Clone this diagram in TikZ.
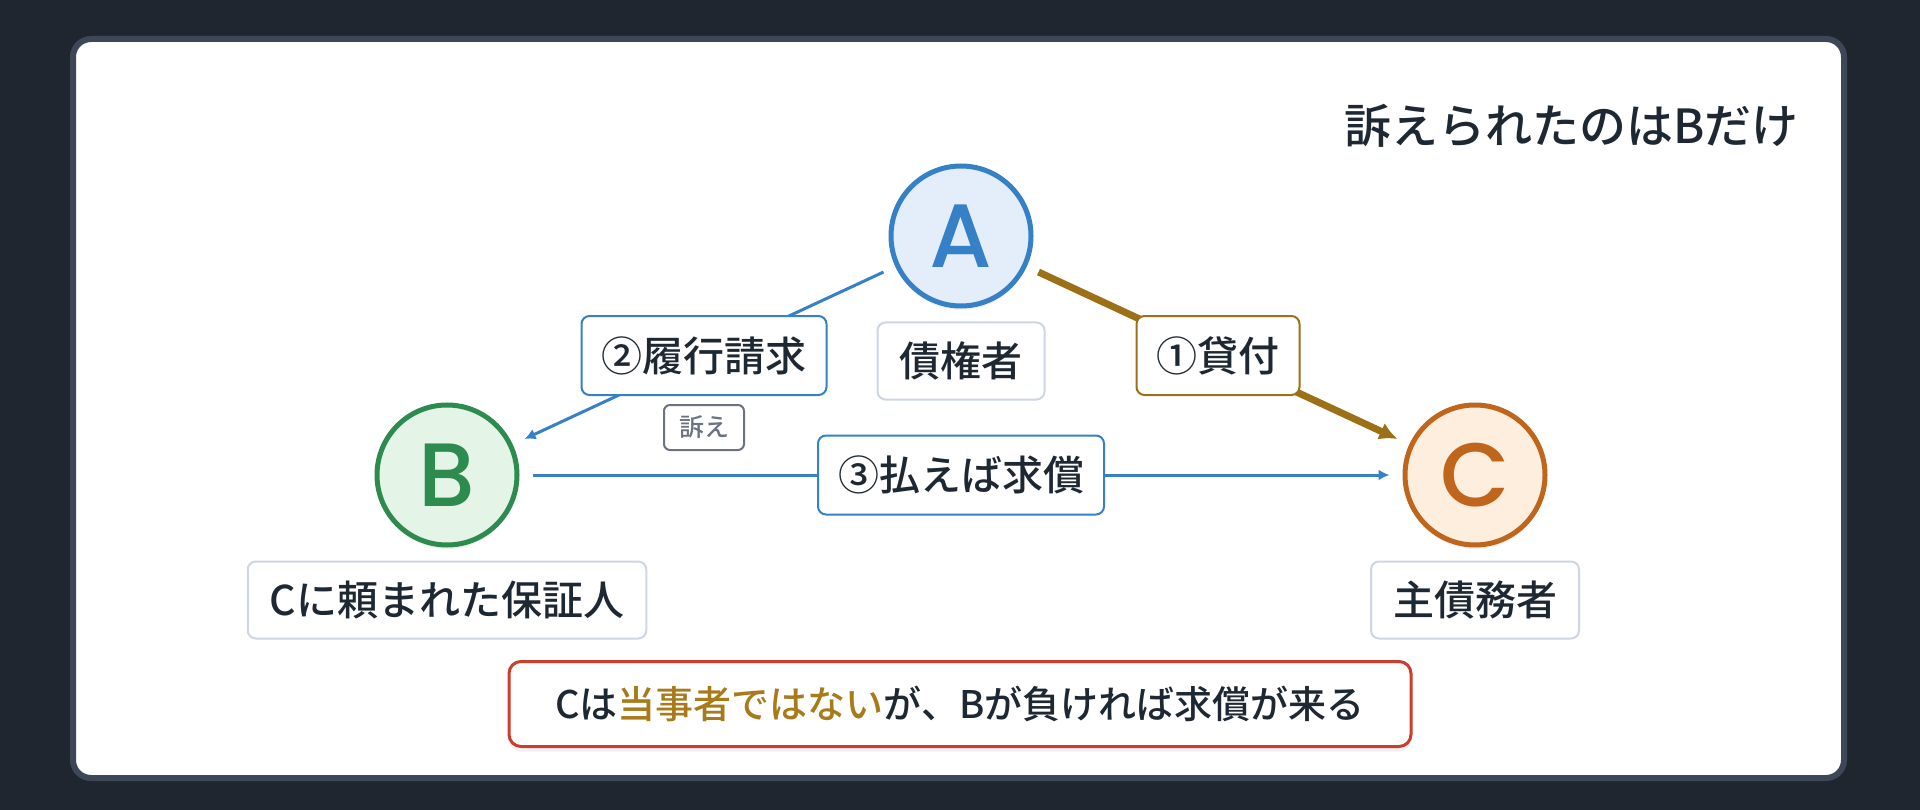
\documentclass[tikz,border=0pt]{standalone}
\usepackage{fontspec}
\setmainfont{Noto Sans CJK JP Medium}
\newfontfamily\letterfont{Poppins Medium}
\usetikzlibrary{arrows.meta}
\usetikzlibrary{positioning}
\usetikzlibrary{shadows}
\definecolor{bgdark}{HTML}{1F2630}
\definecolor{panelline}{HTML}{3D4757}
\definecolor{ink}{HTML}{1E2833}
\definecolor{blueline}{HTML}{3580C6}
\definecolor{bluefill}{HTML}{E3EEFA}
\definecolor{greenline}{HTML}{2E8B50}
\definecolor{greenfill}{HTML}{E4F5E8}
\definecolor{orangeline}{HTML}{C0651C}
\definecolor{orangefill}{HTML}{FDEEDD}
\definecolor{goldline}{HTML}{9C7016}
\definecolor{goldtext}{HTML}{A87A1A}
\definecolor{redline}{HTML}{CC3D2B}
\definecolor{roleline}{HTML}{CDD6E2}
\definecolor{suegray}{HTML}{6B7280}
\tikzset{
	party/.style={circle,line width=5pt,minimum size=140pt,inner sep=0pt,
		font=\letterfont\fontsize{90}{90}\selectfont,
		drop shadow={opacity=0.10,shadow xshift=0pt,shadow yshift=-4pt}},
	role/.style={draw=roleline,line width=2pt,fill=white,rounded corners=8pt,
		inner xsep=22pt,minimum height=77pt,text=ink,font=\fontsize{41}{49}\selectfont},
	steptag/.style={line width=2pt,fill=white,rounded corners=8pt,
		inner xsep=20pt,minimum height=79pt,text=ink,font=\fontsize{41}{49}\selectfont},
	suetag/.style={draw=suegray,line width=2pt,fill=white,rounded corners=6pt,
		inner xsep=15pt,minimum height=45pt,text=suegray,font=\fontsize{25}{30}\selectfont},
	edge/.style={-{Latex[length=11pt,width=11pt]},line width=3pt,draw=blueline,
		shorten >=13pt,shorten <=13pt}
}
\begin{document}
\begin{tikzpicture}[x=1pt,y=-1pt]
		\fill[bgdark] (0,0) rectangle (1920,810);
		\useasboundingbox (0,0) rectangle (1920,810);
		\draw[panelline,line width=6pt,fill=white,rounded corners=18pt] (73,39) rectangle (1844,778);
		
		\node[anchor=east,text=ink,font=\fontsize{47}{56}\selectfont] (title) at (1802,126) {訴えられたのはBだけ};
		
		\node[party,draw=blueline,fill=bluefill,text=blueline] (A) at (961,236) {A};
		\node[party,draw=greenline,fill=greenfill,text=greenline] (B) at (447,475) {B};
		\node[party,draw=orangeline,fill=orangefill,text=orangeline] (C) at (1475,475) {C};
		
		\node[role,below=13pt of A] (Arole) {債権者};
		\node[role,below=13pt of B] (Brole) {Cに頼まれた保証人};
		\node[role,below=13pt of C] (Crole) {主債務者};
		
		\draw[edge] (A) -- node[steptag,draw=blueline] (demand) {②履行請求} (B);
		\draw[edge,draw=goldline,line width=7pt,-{Latex[length=18pt,width=18pt]}] (A) -- node[steptag,draw=goldline] (loan) {①貸付} (C);
		\draw[edge] (B) -- node[steptag,draw=blueline] (refund) {③払えば求償} (C);
		
		\node[suetag,below=8pt of demand] (sue) {訴え};
		
		\node[draw=redline,line width=3pt,fill=white,rounded corners=12pt,minimum width=902pt,minimum height=85pt,
			text=ink,font=\fontsize{38}{46}\selectfont,
			drop shadow={opacity=0.10,shadow xshift=0pt,shadow yshift=-5pt}] (note) at (960,704)
			{Cは\textcolor{goldtext}{当事者ではない}が、Bが負ければ求償が来る};
\end{tikzpicture}
\end{document}
